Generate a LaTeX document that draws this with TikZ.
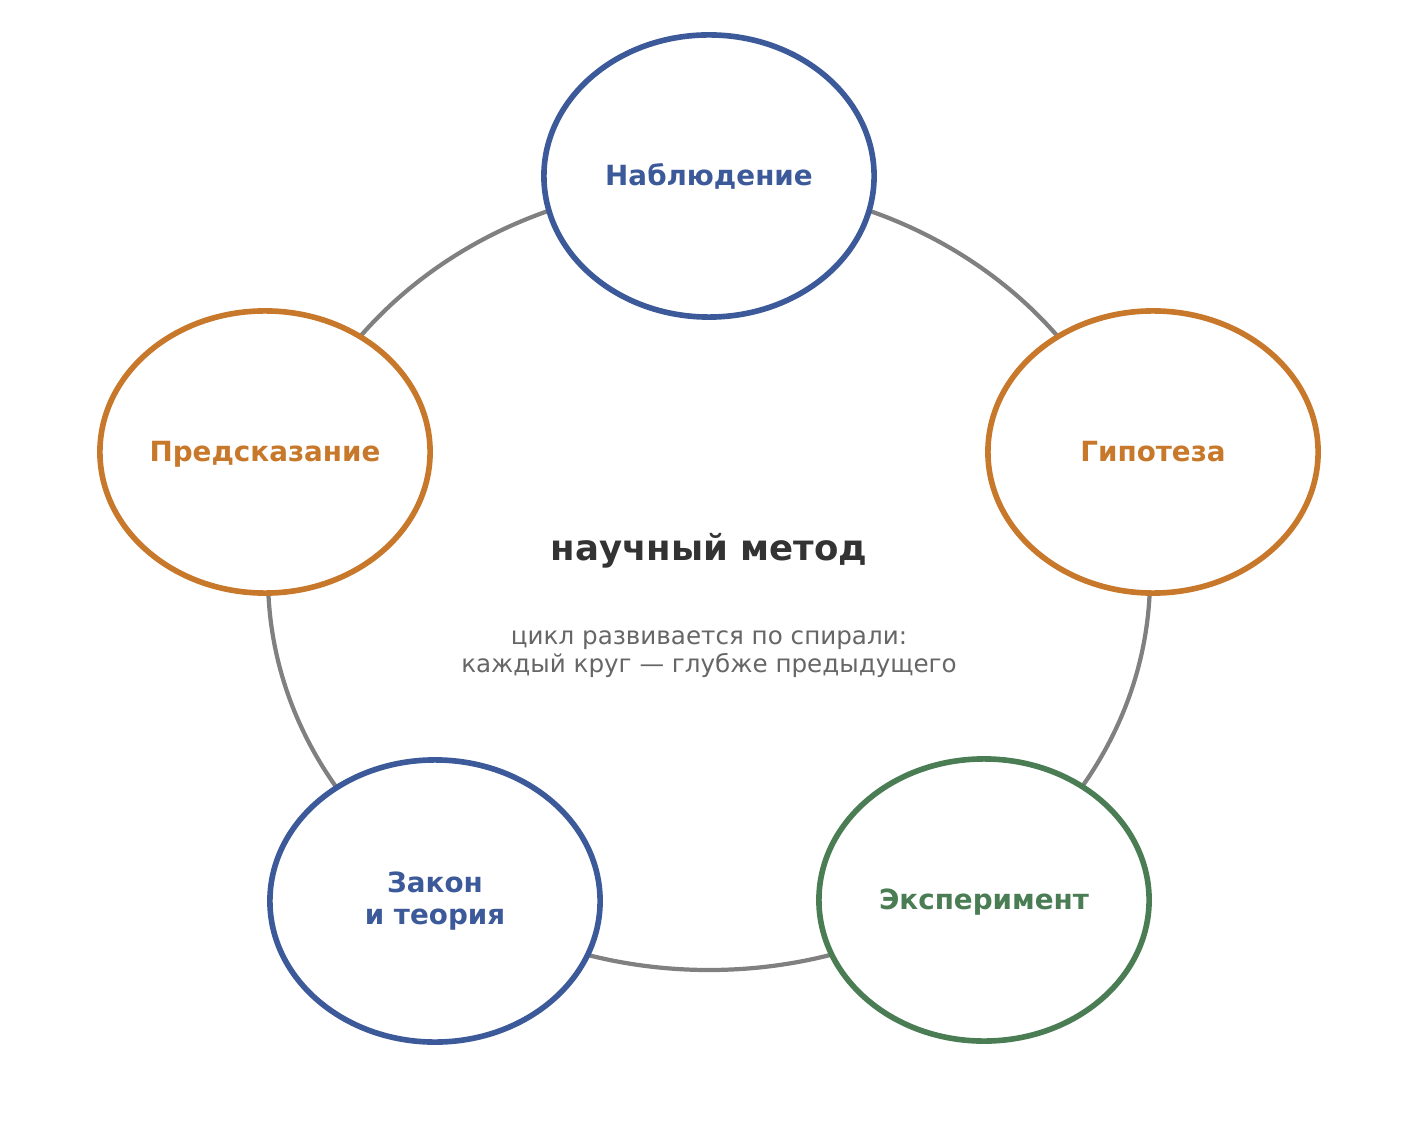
\documentclass[tikz,border=0pt]{standalone}
\usepackage{fontspec}
\setmainfont{DejaVu Sans}
\usetikzlibrary{shapes.geometric}
\definecolor{cblue}{HTML}{3C5A99}
\definecolor{corange}{HTML}{C8782A}
\definecolor{cgreen}{HTML}{4A7D53}
\definecolor{cgray}{HTML}{808080}
\definecolor{ctitle}{HTML}{333333}
\definecolor{csub}{HTML}{666666}
\begin{document}
\begin{tikzpicture}[x=0.01cm,y=-0.01cm,
  stage/.style={ellipse,draw,fill=white,line width=1.6pt,minimum width=3.3cm,minimum height=2.82cm,inner sep=0pt,align=center,font=\fontsize{7.9pt}{8.9pt}\selectfont\bfseries},
  oneline/.style={text height=0.73em,text depth=0.2em},
  cyc/.style={draw=cgray,line width=1.2pt}]
\useasboundingbox (0,0) rectangle (1419,1131);
\draw[cyc] (709,577) ellipse [x radius=441, y radius=393];
\node[stage,oneline,draw=cblue,text=cblue] (obs) at (709,176) {Наблюдение};
\node[stage,oneline,draw=corange,text=corange] (hyp) at (1153,452) {Гипотеза};
\node[stage,oneline,draw=cgreen,text=cgreen] (exp) at (984,900) {Эксперимент};
\node[stage,draw=cblue,text=cblue] (law) at (435,901) {Закон\\и теория};
\node[stage,oneline,draw=corange,text=corange] (pred) at (265,452) {Предсказание};
\node[font=\fontsize{10.1pt}{12pt}\selectfont\bfseries,text=ctitle] (title) at (709,551) {научный метод};
\node[font=\fontsize{7pt}{8.1pt}\selectfont,text=csub,align=center] (sub) at (709,654) {цикл развивается по спирали:\\каждый круг — глубже предыдущего};
\end{tikzpicture}
\end{document}
